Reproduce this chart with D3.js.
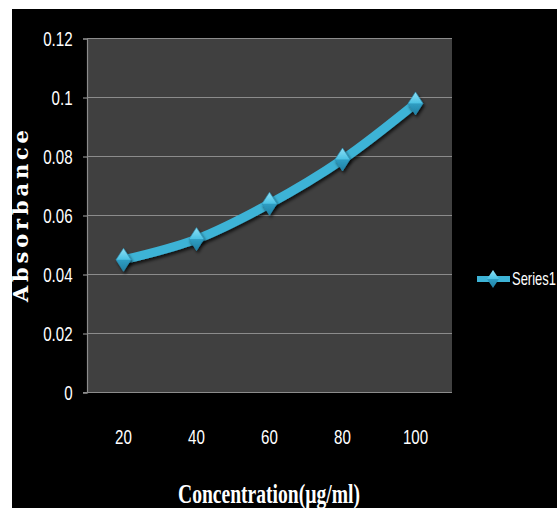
<!DOCTYPE html>
<html>
<head>
<meta charset="utf-8">
<script src="https://cdn.jsdelivr.net/npm/d3@7"></script>
<style>
  html, body { margin: 0; padding: 0; background: #ffffff; }
  svg { display: block; }
</style>
</head>
<body>
<svg id="chart" width="557" height="508"></svg>
<script>
// Absorbance readings at each concentration
const categories = ["20", "40", "60", "80", "100"];
const absorbance = [0.045, 0.052, 0.064, 0.079, 0.098];
const yTicks = [0, 0.02, 0.04, 0.06, 0.08, 0.1, 0.12];
const seriesName = "Series1";

const svg = d3.select("#chart");
const W = 557, H = 508;

// layout
const plot = { left: 87, top: 38.5, right: 452, bottom: 392.5 };
const lineColor = "#3db3d6";
const narrow = 0.72; // horizontal squeeze for the sans labels
const labelFont = "'Liberation Sans', Arial, sans-serif";

const defs = svg.append("defs");
const grad = defs.append("linearGradient")
  .attr("id", "gem").attr("x1", 0).attr("y1", 0).attr("x2", 0).attr("y2", 1);
grad.append("stop").attr("offset", "0%").attr("stop-color", "#8fe0f5");
grad.append("stop").attr("offset", "48%").attr("stop-color", "#4cc2e4");
grad.append("stop").attr("offset", "52%").attr("stop-color", "#2f9dc2");
grad.append("stop").attr("offset", "100%").attr("stop-color", "#1f7fa3");

const shadow = defs.append("filter").attr("id", "shadow")
  .attr("x", "-30%").attr("y", "-30%").attr("width", "160%").attr("height", "160%");
shadow.append("feDropShadow")
  .attr("dx", 1.5).attr("dy", 2.5).attr("stdDeviation", 1.6)
  .attr("flood-color", "#000").attr("flood-opacity", 0.7);

// page backdrop
svg.append("rect").attr("x", 12).attr("y", 9)
  .attr("width", W - 12).attr("height", H - 9).attr("fill", "#000");

const x = d3.scaleBand().domain(categories).range([plot.left, plot.right]);
const y = d3.scaleLinear().domain([0, 0.12]).range([plot.bottom, plot.top]);

// plot area
svg.append("rect")
  .attr("x", plot.left).attr("y", plot.top)
  .attr("width", plot.right - plot.left).attr("height", plot.bottom - plot.top)
  .attr("fill", "#404040");

// horizontal gridlines
svg.append("g").selectAll("line").data(yTicks.slice(1)).join("line")
  .attr("x1", plot.left).attr("x2", plot.right)
  .attr("y1", d => y(d)).attr("y2", d => y(d))
  .attr("stroke", "#8c8c8c").attr("stroke-width", 1.2);

// y axis
const yAxis = svg.append("g")
  .attr("transform", `translate(${plot.left},0)`)
  .call(d3.axisLeft(y).tickValues(yTicks).tickSize(4).tickPadding(16)
    .tickFormat(d => d3.format("")(+d.toFixed(2))));
yAxis.select(".domain").attr("stroke", "#8c8c8c").attr("stroke-width", 1.2);
yAxis.selectAll(".tick line").attr("stroke", "#8c8c8c").attr("stroke-width", 1.2);
yAxis.selectAll(".tick text")
  .attr("fill", "#ffffff")
  .attr("font-family", labelFont)
  .attr("font-size", 21)
  .attr("transform", `scale(${narrow},1)`);

// x axis
const xAxis = svg.append("g")
  .attr("transform", `translate(0,${plot.bottom})`)
  .call(d3.axisBottom(x).tickSize(0).tickPadding(37));
xAxis.select(".domain").attr("stroke", "#8c8c8c").attr("stroke-width", 1.2)
  .attr("d", `M${plot.left - 4},0H${plot.right}`);
xAxis.selectAll(".tick text")
  .attr("fill", "#ffffff")
  .attr("font-family", labelFont)
  .attr("font-size", 21)
  .attr("transform", `scale(${narrow},1)`);

// axis titles
svg.append("text")
  .attr("x", 269).attr("y", 503)
  .attr("text-anchor", "middle")
  .attr("fill", "#ffffff")
  .attr("font-family", "'Liberation Serif', 'Times New Roman', serif")
  .attr("font-weight", "bold")
  .attr("font-size", 28)
  .attr("textLength", 182)
  .attr("lengthAdjust", "spacingAndGlyphs")
  .text("Concentration(µg/ml)");

svg.append("text")
  .attr("transform", "translate(28,216) rotate(-90)")
  .attr("text-anchor", "middle")
  .attr("fill", "#ffffff")
  .attr("font-family", "'DejaVu Serif', 'Liberation Serif', serif")
  .attr("font-weight", "bold")
  .attr("font-size", 21)
  .attr("textLength", 172)
  .attr("lengthAdjust", "spacing")
  .text("Absorbance");

// series line
const cx = (d, i) => x(categories[i]) + x.bandwidth() / 2;
const line = d3.line()
  .x((d, i) => cx(d, i))
  .y(d => y(d))
  .curve(d3.curveCatmullRom.alpha(0.5));

svg.append("path")
  .datum(absorbance)
  .attr("d", line)
  .attr("fill", "none")
  .attr("stroke", lineColor)
  .attr("stroke-width", 9)
  .attr("stroke-linecap", "round")
  .attr("filter", "url(#shadow)");

// diamond markers
const diamond = (w, h) => `M0,${-h / 2}L${w / 2},0L0,${h / 2}L${-w / 2},0Z`;
svg.append("g").selectAll("path").data(absorbance).join("path")
  .attr("transform", (d, i) => `translate(${cx(d, i)},${y(d)})`)
  .attr("d", diamond(15, 23))
  .attr("fill", "url(#gem)")
  .attr("stroke", "#2a8db2")
  .attr("stroke-width", 0.6)
  .attr("filter", "url(#shadow)");

// legend
const lg = svg.append("g").attr("transform", "translate(477,279)");
lg.append("line").attr("x1", 0).attr("x2", 33).attr("y1", 0).attr("y2", 0)
  .attr("stroke", lineColor).attr("stroke-width", 6);
lg.append("path").attr("transform", "translate(16,0)")
  .attr("d", diamond(12, 18))
  .attr("fill", "url(#gem)");
lg.append("text")
  .attr("transform", `translate(35,6) scale(${narrow},1)`)
  .attr("fill", "#ffffff")
  .attr("font-family", labelFont)
  .attr("font-size", 18)
  .text(seriesName);
</script>
</body>
</html>
